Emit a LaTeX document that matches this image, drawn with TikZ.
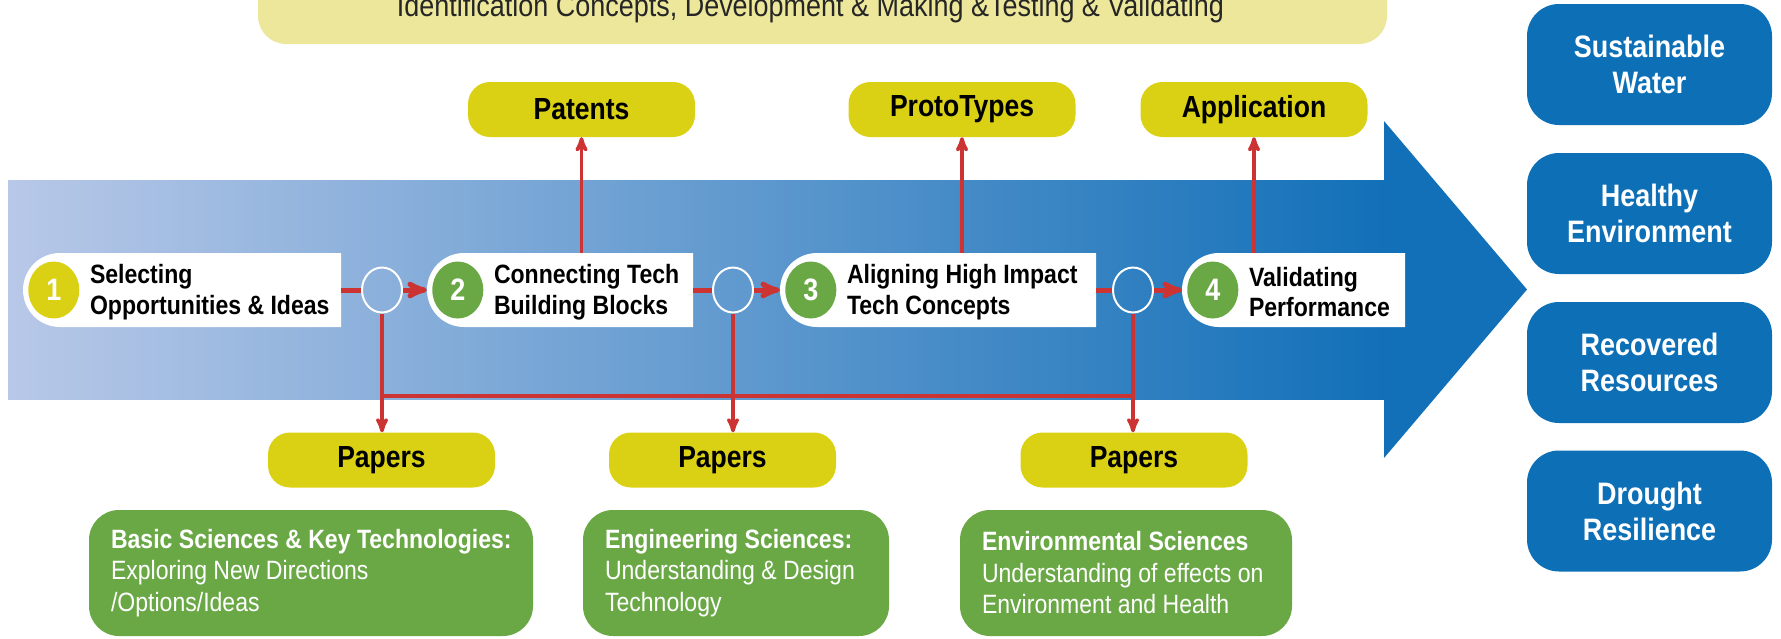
\documentclass[tikz,border=0pt]{standalone}
\usepackage{fontspec}
\setmainfont{Liberation Sans}[FakeStretch=0.87]
\usetikzlibrary{arrows,shapes.geometric,shapes.misc,calc}
\definecolor{tagyellow}{RGB}{219,209,20}
\definecolor{bannery}{RGB}{236,231,155}
\definecolor{leafgreen}{RGB}{106,168,70}
\definecolor{goalblue}{RGB}{13,111,182}
\definecolor{shaftlight}{RGB}{184,200,232}
\definecolor{shaftdark}{RGB}{18,112,184}
\definecolor{linered}{RGB}{204,51,51}
\tikzset{
    stage/.style =  {rounded rectangle,
                    rounded rectangle right arc=none,
                    fill=white,
                    minimum height=74pt,
                    inner sep=0pt},
    stagetext/.style = {align=left,
                    inner sep=0pt,
                    text=black,
                    font=\bfseries\fontsize{26.5}{30.5}\selectfont},
    badge/.style =  {ellipse,
                    text=white,
                    minimum width=51pt,
                    minimum height=57pt,
                    inner sep=0pt,
                    font=\bfseries\fontsize{31}{36}\selectfont},
    ring/.style =   {ellipse,
                    draw=white,
                    line width=2pt,
                    minimum width=40pt,
                    minimum height=45pt,
                    inner sep=0pt},
    tag/.style =    {rectangle,
                    rounded corners=22pt,
                    fill=tagyellow,
                    text=black,
                    minimum width=227pt,
                    minimum height=55pt,
                    font=\bfseries\fontsize{30.5}{36}\selectfont},
    field/.style =  {rectangle,
                    rounded corners=30pt,
                    fill=leafgreen,
                    minimum height=126pt},
    fieldtext/.style = {align=left,
                    inner sep=0pt,
                    text=white,
                    font=\fontsize{26.5}{31.5}\selectfont},
    goal/.style =   {rectangle,
                    rounded corners=32pt,
                    fill=goalblue,
                    text=white,
                    align=center,
                    minimum width=245pt,
                    minimum height=121pt,
                    font=\bfseries\fontsize{31}{36}\selectfont},
    banner/.style = {rectangle,
                    rounded corners=28pt,
                    fill=bannery,
                    minimum width=1129pt,
                    minimum height=84pt},
    -,
    hline/.style =  {draw=linered, line width=5pt},
    vline/.style =  {draw=linered, line width=3.5pt},
    >=stealth'}

\begin{document}
\begin{tikzpicture}[x=1pt,y=-1pt]
    \useasboundingbox (0,0) rectangle (1781,638);
    \clip (0,0) rectangle (1781,638);
    % banner on top
    \node[banner]   (ban) at (822.5,2) {};
    \node[anchor=base,text=black!85,font=\fontsize{31}{36}\selectfont] (bantext) at (810.5,16.7)
        {Identification Concepts, Development \& Making \&Testing \& Validating};
    % big arrow
    \shade[left color=shaftlight,right color=shaftdark] (8,180) rectangle (1385,399);
    \fill[shaftdark] (1384,121) -- (1527,289.5) -- (1384,458) -- cycle;
    % goals
    \node[goal]     (g1) at (1649.5,64.5)  {Sustainable\\Water};
    \node[goal]     (g2) at (1649.5,213.5) {Healthy\\Environment};
    \node[goal]     (g3) at (1649.5,362.5) {Recovered\\Resources};
    \node[goal]     (g4) at (1649.5,511)   {Drought\\Resilience};
    % stages
    \node[stage,minimum width=318pt] (s1) at (182,290)    {};
    \node[stage,minimum width=266pt] (s2) at (560,290)    {};
    \node[stage,minimum width=316pt] (s3) at (938,290)    {};
    \node[stage,minimum width=223pt] (s4) at (1293.5,290) {};
    \node[badge,fill=tagyellow] (n1) at ([xshift=31pt]s1.west) {1};
    \node[badge,fill=leafgreen] (n2) at ([xshift=31pt]s2.west) {2};
    \node[badge,fill=leafgreen] (n3) at ([xshift=31pt]s3.west) {3};
    \node[badge,fill=leafgreen] (n4) at ([xshift=31pt]s4.west) {4};
    \node[stagetext,anchor=west] (t1) at ([xshift=67pt,yshift=-2pt]s1.west) {Selecting\\Opportunities \& Ideas};
    \node[stagetext,anchor=west] (t2) at ([xshift=67pt,yshift=-2pt]s2.west) {Connecting Tech\\Building Blocks};
    \node[stagetext,anchor=west] (t3) at ([xshift=67pt,yshift=-2pt]s3.west) {Aligning High Impact\\Tech Concepts};
    \node[stagetext,anchor=west] (t4) at ([xshift=67pt,yshift=-2pt]s4.west) {Validating\\Performance};
    \node[ring]     (c1) at (382,290)  {};
    \node[ring]     (c2) at (733,290)  {};
    \node[ring]     (c3) at (1133,290) {};
    % outputs
    \node[tag]      (pat) at (581.5,109.5) {Patents};
    \node[tag]      (pro) at (962,109.5)   {ProtoTypes};
    \node[tag]      (app) at (1254,109.5)  {Application};
    \node[tag]      (pap1) at (381.5,460)  {Papers};
    \node[tag]      (pap2) at (722.5,460)  {Papers};
    \node[tag]      (pap3) at (1134,460)   {Papers};
    \coordinate     (bus) at (0,396);
    % sciences
    \node[field,minimum width=444pt] (f1) at (311,573)  {};
    \node[field,minimum width=306pt] (f2) at (736,573)  {};
    \node[field,minimum width=332pt] (f3) at (1126,573) {};
    \node[fieldtext,anchor=west] (ft1) at ([xshift=22pt]f1.west)
        {\textbf{Basic Sciences \& Key Technologies:}\\Exploring New Directions\\/Options/Ideas};
    \node[fieldtext,anchor=west] (ft2) at ([xshift=22pt]f2.west)
        {\textbf{Engineering Sciences:}\\Understanding \& Design\\Technology};
    \node[fieldtext,anchor=west] (ft3) at ([xshift=22pt]f3.west)
        {\textbf{Environmental Sciences}\\Understanding of effects on\\Environment and Health};
    % red links
    \path [hline]   (s1.east) edge (c1.west)
                    (c1.east) edge [->] (s2.west)
                    (s2.east) edge (c2.west)
                    (c2.east) edge [->] (s3.west)
                    (s3.east) edge (c3.west)
                    (c3.east) edge [->] (s4.west);
    \path [vline]   (pat.south |- s2.north) edge [->] (pat.south)
                    (pro.south |- s3.north) edge [->] (pro.south)
                    (app.south |- s4.north) edge [->] (app.south)
                    (c1.south) edge [->] (c1 |- pap1.north)
                    (c2.south) edge [->] (c2 |- pap2.north)
                    (c3.south) edge [->] (c3 |- pap3.north);
    \draw [linered,line width=4.5pt] (c1 |- bus) -- (c3 |- bus);
\end{tikzpicture}
\end{document}
